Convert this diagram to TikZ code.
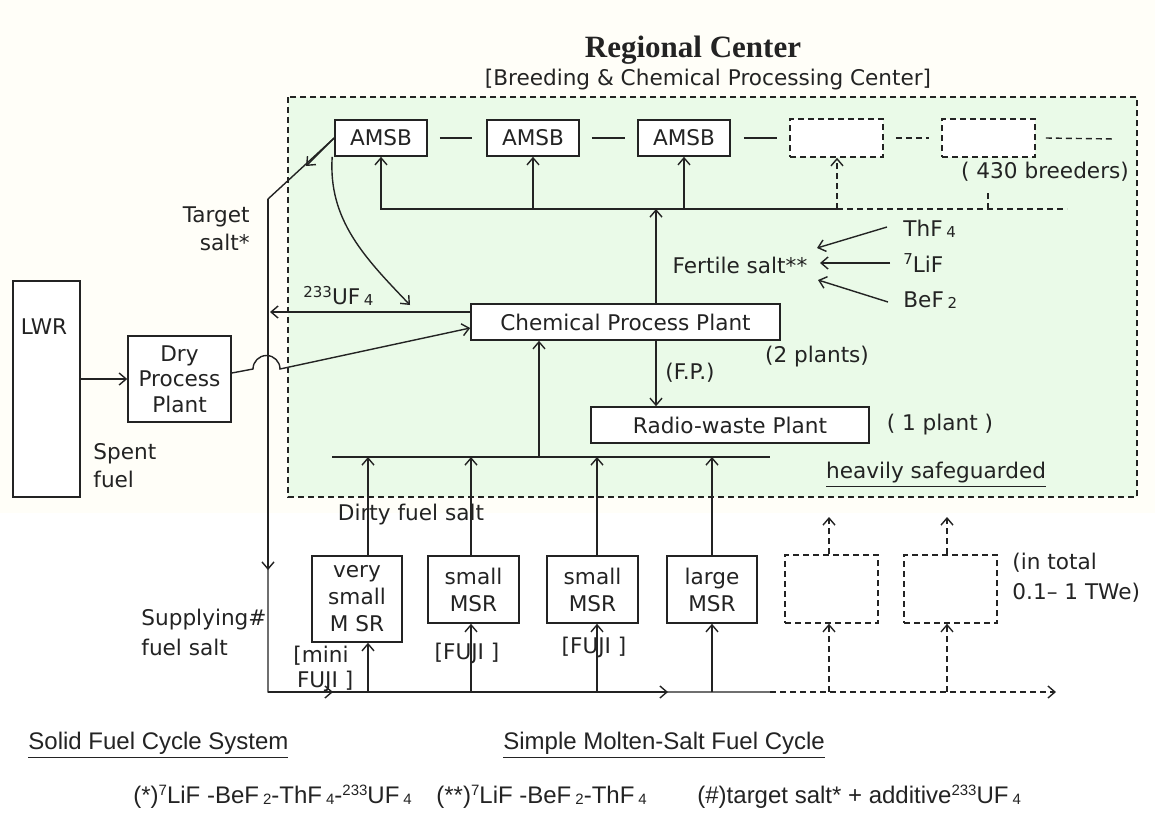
\documentclass[tikz,border=0pt]{standalone}
\usepackage{fontspec}
\setmainfont{DejaVu Sans}
\newfontfamily\titlefont{Liberation Serif}
\newfontfamily\notefont{Liberation Sans}
\usetikzlibrary{arrows.meta}
\definecolor{ink}{RGB}{35,35,35}
\definecolor{greenbg}{RGB}{234,250,232}
\definecolor{cream}{RGB}{255,254,248}
\newcommand\mysub[1]{\,\raisebox{-0.1ex}{\fontsize{7.5}{8}\selectfont #1}}
\newcommand\mysup[1]{\raisebox{0.6ex}{\fontsize{7.5}{8}\selectfont #1}}
\tikzset{
  every node/.style={font=\fontsize{10.8}{13.5}\selectfont, text=ink},
  box/.style={draw=ink, line width=0.8pt, fill=white, inner sep=0pt},
  dsh/.style={dash pattern=on 3pt off 2pt},
  dbox/.style={box, dsh},
  ln/.style={draw=ink, line width=0.7pt},
  arr/.style={ln, -{Straight Barb[length=3.5pt,width=6pt]}},
  lbl/.style={inner sep=0pt},
  note/.style={inner sep=0pt, font=\notefont\fontsize{12}{14}\selectfont}
}
\begin{document}
\begin{tikzpicture}[x=0.5pt,y=-0.5pt]
\useasboundingbox (0,0) rectangle (1155,815);
\fill[white] (0,0) rectangle (1155,815);
\fill[cream] (0,0) rectangle (1155,513);
% green region
\draw[ink, line width=0.8pt, dsh, fill=greenbg] (288,97) rectangle (1137,497);

% titles
\node[lbl, font=\titlefont\bfseries\fontsize{15.5}{17}\selectfont] (title) at (693,50) {Regional Center};
\node[lbl] (center) at (708,80) {[Breeding \& Chemical Processing Center]};

% AMSB row
\node[box, minimum width=46pt, minimum height=18pt] (amsb1) at (381,138) {AMSB};
\node[box, minimum width=46pt, minimum height=18pt] (amsb2) at (533,138) {AMSB};
\node[box, minimum width=46pt, minimum height=18pt] (amsb3) at (684,138) {AMSB};
\node[dbox, minimum width=46.5pt, minimum height=19pt] (amsb4) at (836.5,138) {};
\node[dbox, minimum width=46.5pt, minimum height=19pt] (amsb5) at (988.5,138) {};
\draw[ln] ([xshift=6pt]amsb1.east) -- ([xshift=-7pt]amsb2.west);
\draw[ln] ([xshift=6pt]amsb2.east) -- ([xshift=-6pt]amsb3.west);
\draw[ln] ([xshift=6.5pt]amsb3.east) -- ([xshift=-6pt]amsb4.west);
\draw[ln, dsh] ([xshift=6pt]amsb4.east) -- ([xshift=-6pt]amsb5.west);
\coordinate (tail) at (1115,139);
\draw[ln, dsh] ([xshift=5pt]amsb5.east) -- (tail);
\node[lbl] (breeders) at (1045,172) {( 430 breeders)};

% distribution line
\coordinate (hl) at (380,209);
\coordinate (hm) at (837,209);
\coordinate (hr) at (1067,209);
\coordinate (hb) at (988,209);
\coordinate (hbt) at (988,190);
\draw[ln] (hl) -- (hm);
\draw[ln, dsh] (hm) -- (hr);
\draw[arr] (amsb1.south |- hl) -- (amsb1.south);
\draw[arr] (amsb2.south |- hl) -- (amsb2.south);
\draw[arr] (amsb3.south |- hl) -- (amsb3.south);
\draw[arr, dsh] (hm) -- (hm |- amsb4.south);
\draw[ln, dsh] (hb) -- (hbt);

% fertile salt
\node[lbl] (fertile) at (740,265) {Fertile salt**};
\node[lbl, anchor=west] (thf) at (903,229) {ThF\mysub{4}};
\node[lbl, anchor=west] (lif) at (903,263) {\mysup{7}LiF};
\node[lbl, anchor=west] (bef) at (903,300) {BeF\mysub{2}};
\coordinate (f1) at (817,248);
\coordinate (f2) at (820,263);
\coordinate (f3) at (818,280);
\draw[arr] ([xshift=-8pt,yshift=1pt]thf.west) -- (f1);
\draw[arr] ([xshift=-6.5pt]lif.west) -- (f2);
\draw[arr] ([xshift=-7.5pt,yshift=-1pt]bef.west) -- (f3);

% chemical process plant
\node[box, minimum width=154.5pt, minimum height=18pt] (chem) at (625.5,322) {Chemical Process Plant};
\node[lbl] (twoplants) at (817,357) {(2 plants)};
\node[box, minimum width=139pt, minimum height=18pt] (radio) at (730,425) {Radio-waste Plant};
\node[lbl] (oneplant) at (940,425) {( 1 plant )};
\coordinate (fp) at (656,0);
\draw[arr] (fp |- chem.north) -- (fp |- hl);
\draw[arr] (fp |- chem.south) -- (fp |- radio.north);
\node[lbl] (fplabel) at (690,373) {(F.P.)};
\node[lbl] (safe) at (936,475) {\underline{heavily safeguarded}};

% collector line
\coordinate (bl) at (332,457);
\coordinate (br) at (770,457);
\coordinate (cx) at (539,457);
\draw[ln] (bl) -- (br);
\draw[arr] (cx) -- (cx |- chem.south);

% left side
\node[box, minimum width=33.5pt, minimum height=108pt] (lwr) at (46.5,389) {};
\node[lbl] (lwrtext) at (44,327) {LWR};
\node[box, minimum width=51.5pt, minimum height=43pt, align=center, font=\fontsize{10.8}{12.8}\selectfont] (dry) at (179.5,379) {Dry\\Process\\Plant};
\draw[arr] (lwr.east |- dry.west) -- (dry.west);
\node[lbl, align=left, anchor=west, font=\fontsize{10.8}{14}\selectfont] (spent) at (93,466) {Spent\\fuel};
\node[lbl, align=right, anchor=east, font=\fontsize{10.8}{14}\selectfont] (target) at (250,229) {Target\\salt*};

\coordinate (tb) at (268,199);
\coordinate (ta) at (306,166);
\coordinate (tv) at (268,570);
\coordinate (s0) at (268,692);
\coordinate (s1) at (770,692);
\coordinate (s2) at (1056,692);
\coordinate (m1) at (333,692);
\coordinate (m2) at (668,692);
\draw[ln] (amsb1.west) -- (tb) -- (s0) -- (s1);
\draw[arr] (amsb1.west) -- (ta);
\draw[arr] (tb) -- (tv);
\draw[arr] (s0) -- (m1);
\draw[arr] (s0) -- (m2);
\draw[arr, dsh] (s1) -- (s2);

% 233UF4 return
\coordinate (uf) at (270,312);
\draw[arr] ([yshift=5pt]chem.west) -- (uf);
\node[lbl, anchor=west] (uflabel) at (303,296) {\mysup{233}UF\mysub{4}};

% curved arrow from AMSB
\coordinate (cv) at (410,305);
\draw[arr] ([xshift=-1pt]amsb1.south west) .. controls (328,220) and (365,258) .. (cv);

% dry process plant to chem with hump
\coordinate (h0) at (253,369);
\draw[arr] ([yshift=3pt]dry.east) -- (h0) arc[start angle=180, end angle=0, radius=6.75pt] -- ([yshift=-3pt]chem.west);

% MSR row
\node[box, minimum width=45pt, minimum height=43pt, align=center] (vsmsr) at (357,599) {very\\small\\M SR};
\node[box, minimum width=45.5pt, minimum height=33.5pt, align=center] (smsr1) at (473.5,589.5) {small\\MSR};
\node[box, minimum width=45.5pt, minimum height=33.5pt, align=center] (smsr2) at (592.5,589.5) {small\\MSR};
\node[box, minimum width=45pt, minimum height=33.5pt, align=center] (lmsr) at (712,589.5) {large\\MSR};
\node[dbox, minimum width=46.5pt, minimum height=34pt] (d1) at (831.5,589) {};
\node[dbox, minimum width=46.5pt, minimum height=34pt] (d2) at (950.5,589) {};
\node[lbl, align=left, anchor=west, font=\fontsize{10.8}{15}\selectfont] (intotal) at (1012,578) {(in total\\0.1– 1 TWe)};
\node[lbl] (dirty) at (411,515) {Dirty fuel salt};
\node[lbl, align=left, anchor=west, font=\fontsize{10.8}{15}\selectfont] (supply) at (141,632) {Supplying\#\\fuel salt};

\coordinate (c1) at (368,457);
\coordinate (c2) at (471,457);
\coordinate (c3) at (597,457);
\coordinate (c4) at (712,457);
\coordinate (c5) at (829,517);
\coordinate (c6) at (947,517);
\draw[arr] (c1 |- vsmsr.north) -- (c1);
\draw[arr] (c2 |- smsr1.north) -- (c2);
\draw[arr] (c3 |- smsr2.north) -- (c3);
\draw[arr] (c4 |- lmsr.north) -- (c4);
\draw[arr, dsh] (c5 |- d1.north) -- (c5);
\draw[arr, dsh] (c6 |- d2.north) -- (c6);

\node[lbl, align=left, anchor=north west, font=\fontsize{10.8}{12.5}\selectfont] (minifuji) at (293,646) {[mini\\\,FUJI ]};
\node[lbl] (fuji1) at (467,653) {[FUJI ]};
\node[lbl] (fuji2) at (594,647) {[FUJI ]};

\draw[arr] (c1 |- s0) -- (c1 |- vsmsr.south);
\draw[arr] (c2 |- s0) -- (c2 |- smsr1.south);
\draw[arr] (c3 |- s0) -- (c3 |- smsr2.south);
\draw[arr] (c4 |- s0) -- (c4 |- lmsr.south);
\draw[arr, dsh] (c5 |- s0) -- (c5 |- d1.south);
\draw[arr, dsh] (c6 |- s0) -- (c6 |- d2.south);

% bottom notes
\node[note, anchor=west] (solid) at (28,745) {\underline{Solid Fuel Cycle System}};
\node[note, anchor=west] (simple) at (503,745) {\underline{Simple Molten-Salt Fuel Cycle}};
\node[note, anchor=west] (form1) at (133,797) {(*)\mysup{7}LiF -BeF\mysub{2}-ThF\mysub{4}-\mysup{233}UF\mysub{4}};
\node[note, anchor=west] (form2) at (436,797) {(**)\mysup{7}LiF -BeF\mysub{2}-ThF\mysub{4}};
\node[note, anchor=west] (form3) at (697,797) {(\#)target salt* + additive\mysup{233}UF\mysub{4}};
\end{tikzpicture}
\end{document}
